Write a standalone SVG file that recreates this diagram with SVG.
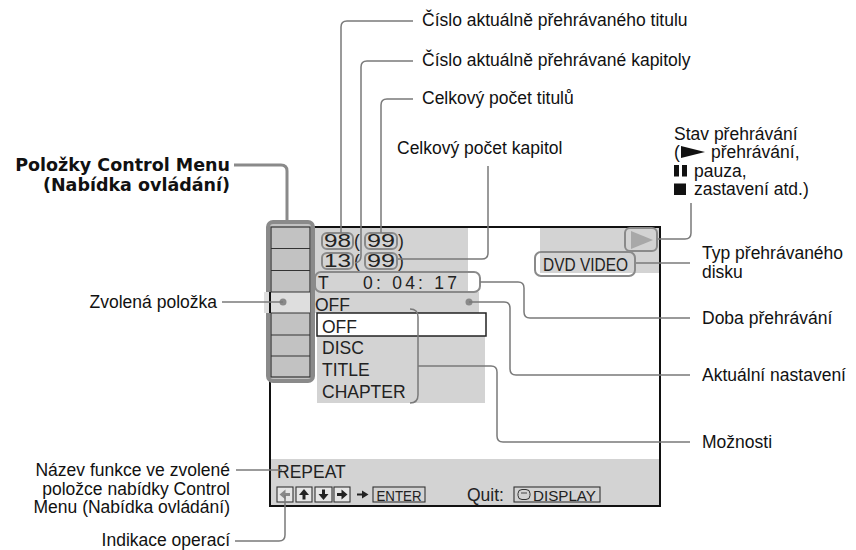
<svg xmlns="http://www.w3.org/2000/svg" width="856" height="550" viewBox="0 0 856 550">
<style>
  .lbl{font-family:"Liberation Sans",Arial,sans-serif;font-size:17.5px;fill:#111}
  .bold{font-family:"DejaVu Sans","Liberation Sans",sans-serif;font-weight:bold;font-size:17.5px;fill:#111}
  .scr{font-family:"Liberation Sans",Arial,sans-serif;font-size:17.5px;fill:#222}
  .small{font-family:"Liberation Sans",Arial,sans-serif;font-size:14.5px;fill:#222}
  .lead{fill:none;stroke:#7a7a7a;stroke-width:1.5;stroke-linejoin:round}
  .rbox{fill:none;stroke:#8a8a8a;stroke-width:2}
  .gray{fill:#d3d3d3}
  .btn{fill:#e6e6e6;stroke:#333;stroke-width:1.1}
  .dot{fill:#8a8a8a}
</style>

<g id="screen">
  <rect x="270" y="227" width="390" height="279" fill="#fff"/>
  <rect class="gray" x="313" y="228" width="155" height="64"/>
  <rect class="gray" x="313" y="292" width="166" height="21"/>
  <rect class="gray" x="317" y="313" width="168" height="90"/>
  <rect class="gray" x="540" y="228" width="120" height="45"/>
  <rect class="gray" x="270" y="459" width="390" height="47"/>
  <rect x="270" y="227" width="390" height="279" fill="none" stroke="#111" stroke-width="2"/>

  <!-- numbers -->
  <rect class="rbox" x="322" y="233" width="31" height="16" rx="5"/>
  <rect class="rbox" x="365" y="233" width="32" height="16" rx="5"/>
  <rect class="rbox" x="322" y="253" width="31" height="16" rx="5"/>
  <rect class="rbox" x="365" y="253" width="32" height="16" rx="5"/>
  <text class="scr" x="324" y="247" textLength="27" lengthAdjust="spacingAndGlyphs">98</text>
  <text class="scr" x="354" y="247">(</text>
  <text class="scr" x="367" y="247" textLength="28" lengthAdjust="spacingAndGlyphs">99</text>
  <text class="scr" x="398" y="247">)</text>
  <text class="scr" x="324" y="267" textLength="27" lengthAdjust="spacingAndGlyphs">13</text>
  <text class="scr" x="354" y="267">(</text>
  <text class="scr" x="367" y="267" textLength="28" lengthAdjust="spacingAndGlyphs">99</text>
  <text class="scr" x="398" y="267">)</text>

  <!-- time -->
  <rect class="rbox" x="315" y="272" width="165" height="20" rx="6"/>
  <text class="scr" x="318" y="289">T</text>
  <text class="scr" x="363" y="289" textLength="94" lengthAdjust="spacing">0: 04: 17</text>

  <!-- current setting -->
  <text class="scr" x="315" y="311">OFF</text>
  <circle class="dot" cx="469" cy="302" r="3.5"/>

  <!-- options -->
  <rect x="317" y="313" width="169" height="23" fill="#fff" stroke="#222" stroke-width="1.5"/>
  <text class="scr" x="322" y="333">OFF</text>
  <text class="scr" x="322" y="354">DISC</text>
  <text class="scr" x="322" y="376">TITLE</text>
  <text class="scr" x="322" y="398">CHAPTER</text>

  <!-- status / disc type -->
  <rect class="rbox" x="625" y="228" width="32" height="23" rx="5" stroke="#9a9a9a"/>
  <polygon points="631,231 653,240 631,249" fill="#a8a8a8"/>
  <rect class="rbox" x="535" y="252" width="100" height="24" rx="6"/>
  <text class="scr" x="543" y="271" textLength="85" lengthAdjust="spacingAndGlyphs">DVD VIDEO</text>

  <!-- bottom bar -->
  <text class="scr" x="277" y="478">REPEAT</text>
  <rect class="btn" x="277" y="487" width="16" height="15"/>
  <rect class="btn" x="296" y="487" width="16" height="15"/>
  <rect class="btn" x="315" y="487" width="17" height="15"/>
  <rect class="btn" x="334" y="487" width="16" height="15"/>
  <polygon points="279.5,494.5 285.5,489.5 285.5,499.5" fill="#888"/>
  <rect x="285" y="493" width="5" height="3" fill="#888"/>
  <polygon points="304,489 299,495 309,495" fill="#222"/>
  <rect x="302.5" y="494" width="3" height="5.5" fill="#222"/>
  <polygon points="323.5,500 318.5,494 328.5,494" fill="#222"/>
  <rect x="322" y="489.5" width="3" height="5" fill="#222"/>
  <polygon points="347.5,494.5 341.5,489.5 341.5,499.5" fill="#222"/>
  <rect x="337" y="493" width="5" height="3" fill="#222"/>
  <line x1="357" y1="494.5" x2="363" y2="494.5" stroke="#222" stroke-width="2"/>
  <polygon points="368.5,494.5 362,490.5 362,498.5" fill="#222"/>
  <rect x="373" y="487" width="52" height="15" fill="none" stroke="#333" stroke-width="1.1"/>
  <text class="small" x="376.5" y="500.5" textLength="45" lengthAdjust="spacingAndGlyphs">ENTER</text>
  <text class="scr" x="467" y="501">Quit:</text>
  <rect x="514" y="487" width="86" height="15" fill="none" stroke="#333" stroke-width="1.1"/>
  <rect x="518" y="489.5" width="12" height="10" rx="4" fill="none" stroke="#333" stroke-width="1"/>
  <circle cx="522" cy="493" r="0.8" fill="#333"/><circle cx="524" cy="493" r="0.8" fill="#333"/><circle cx="526" cy="493" r="0.8" fill="#333"/>
  <text class="small" x="533" y="500.5" textLength="63" lengthAdjust="spacingAndGlyphs">DISPLAY</text>
</g>

<g id="control-menu">
  <rect x="268" y="222" width="45" height="159" rx="5" fill="#c2c2c2" stroke="#8a8a8a" stroke-width="4"/>
  <rect x="271" y="227" width="39" height="150" fill="none" stroke="#333" stroke-width="1.2"/>
  <rect x="264" y="292" width="46" height="21" fill="#dedede"/>
  <line x1="270" y1="292" x2="270" y2="313" stroke="#111" stroke-width="2"/>
  <g stroke="#333" stroke-width="1.2">
    <line x1="271" y1="248.5" x2="310" y2="248.5"/>
    <line x1="271" y1="270.5" x2="310" y2="270.5"/>
    <line x1="271" y1="292" x2="310" y2="292"/>
    <line x1="271" y1="313" x2="310" y2="313"/>
    <line x1="271" y1="335" x2="310" y2="335"/>
    <line x1="271" y1="356" x2="310" y2="356"/>
  </g>
  <circle class="dot" cx="283" cy="302" r="3.5"/>
</g>

<g id="options-bracket">
  <path class="lead" d="M410 309 Q418 309 418 317 L418 395 Q418 403 410 403"/>
</g>

<g id="connectors">
  <path class="lead" d="M413 21 L347 21 Q341 21 341 27 L341 233"/>
  <path class="lead" d="M413 61 L367 61 Q361 61 361 67 L361 256 Q361 262 355 263"/>
  <path class="lead" d="M413 99 L387 99 Q381 99 381 105 L381 233"/>
  <path class="lead" d="M488 166 L488 253 Q488 259 482 259 L398 259"/>
  <path class="lead" d="M691 203 L691 233 Q691 239 685 239 L658 239"/>
  <path class="lead" d="M636 263 L690 263"/>
  <path class="lead" d="M480 282 L518 282 Q524 282 524 288 L524 312 Q524 318 530 318 L690 318"/>
  <path class="lead" d="M469 302 L504 302 Q510 302 510 308 L510 369 Q510 375 516 375 L690 375"/>
  <path class="lead" d="M418 366 L491 366 Q497 366 497 372 L497 436 Q497 442 503 442 L690 442"/>
  <path class="lead" d="M222 302 L283 302"/>
  <path class="lead" d="M236 470 L282 470"/>
  <path class="lead" d="M235 541 L279 541 Q285 541 285 535 L285 495"/>
  <path fill="none" stroke="#8a8a8a" stroke-width="3" stroke-linejoin="round" d="M234 165 L281 165 Q287 165 287 171 L287 222"/>
</g>

<g id="lbl-title-no"><text class="lbl" x="422" y="26">Číslo aktuálně přehrávaného titulu</text></g>
<g id="lbl-chapter-no"><text class="lbl" x="422" y="66">Číslo aktuálně přehrávané kapitoly</text></g>
<g id="lbl-total-titles"><text class="lbl" x="422" y="104">Celkový počet titulů</text></g>
<g id="lbl-total-chapters"><text class="lbl" x="397" y="154">Celkový počet kapitol</text></g>
<g id="lbl-status">
  <text class="lbl" x="674" y="139.5">Stav přehrávání</text>
  <text class="lbl" x="674" y="158">(</text>
  <polygon points="681,146 705,152 681,158" fill="#111"/>
  <text class="lbl" x="711" y="158">přehrávání,</text>
  <rect x="674" y="165" width="5" height="11.5" fill="#111"/>
  <rect x="682" y="165" width="5" height="11.5" fill="#111"/>
  <text class="lbl" x="694" y="176.5">pauza,</text>
  <rect x="674" y="183.5" width="12" height="11.5" fill="#111"/>
  <text class="lbl" x="694" y="195">zastavení atd.)</text>
</g>
<g id="lbl-disc-type">
  <text class="lbl" x="702" y="259">Typ přehrávaného</text>
  <text class="lbl" x="702" y="277.5">disku</text>
</g>
<g id="lbl-time"><text class="lbl" x="702" y="324">Doba přehrávání</text></g>
<g id="lbl-current"><text class="lbl" x="702" y="381">Aktuální nastavení</text></g>
<g id="lbl-options"><text class="lbl" x="702" y="448">Možnosti</text></g>
<g id="lbl-menu-items">
  <text class="bold" x="230" y="171" text-anchor="end">Položky Control Menu</text>
  <text class="bold" x="230" y="191" text-anchor="end">(Nabídka ovládání)</text>
</g>
<g id="lbl-selected"><text class="lbl" x="217" y="308" text-anchor="end">Zvolená položka</text></g>
<g id="lbl-function-name">
  <text class="lbl" x="230" y="476" text-anchor="end">Název funkce ve zvolené</text>
  <text class="lbl" x="230" y="494.5" text-anchor="end">položce nabídky Control</text>
  <text class="lbl" x="230" y="513" text-anchor="end">Menu (Nabídka ovládání)</text>
</g>
<g id="lbl-operations"><text class="lbl" x="230" y="546" text-anchor="end">Indikace operací</text></g>
</svg>
